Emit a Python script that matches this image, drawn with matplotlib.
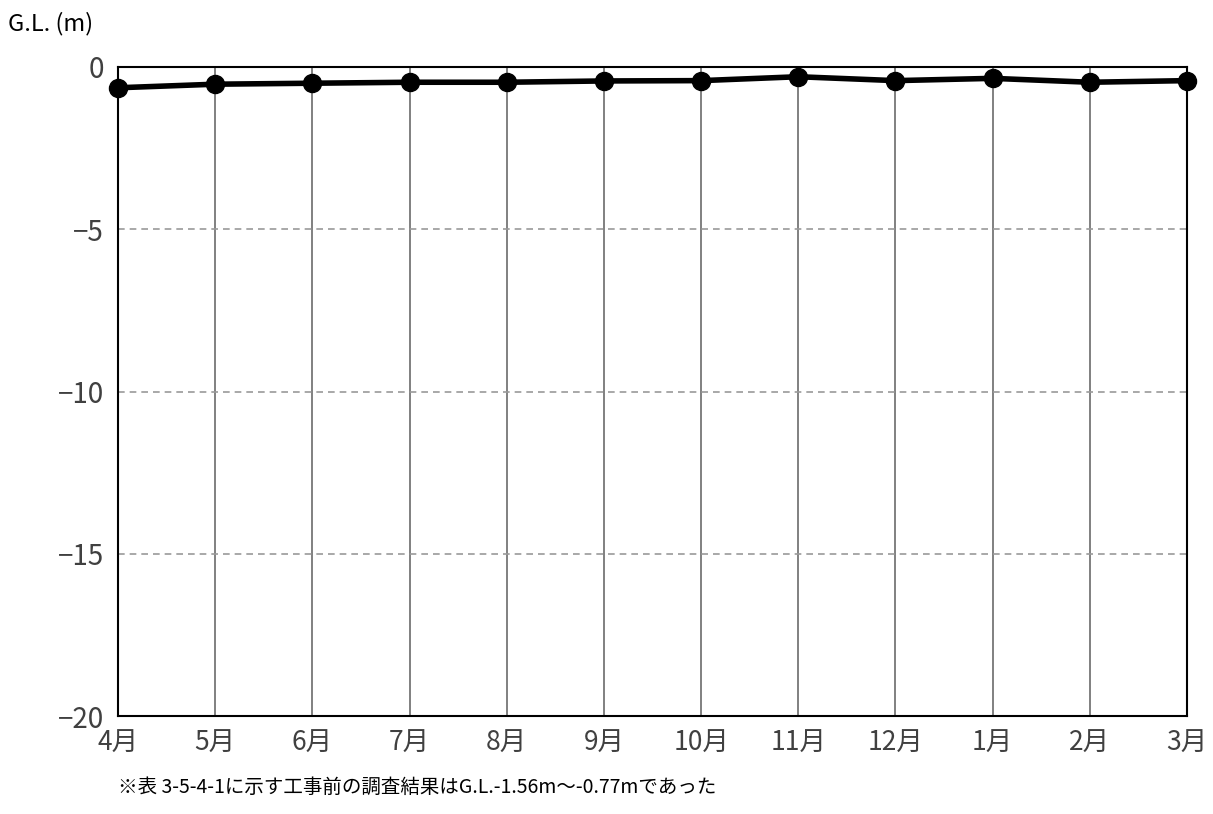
import matplotlib
matplotlib.use('Agg')
import matplotlib.pyplot as plt

plt.rcParams['font.family'] = ['Noto Sans CJK JP', 'DejaVu Sans']

# monthly groundwater level (G.L. m)
months = ['4月', '5月', '6月', '7月', '8月', '9月', '10月', '11月', '12月', '1月', '2月', '3月']
levels = [-0.64, -0.53, -0.50, -0.47, -0.47, -0.43, -0.42, -0.30, -0.42, -0.35, -0.47, -0.42]
yticks = [0, -5, -10, -15, -20]

fig = plt.figure(figsize=(12.13, 8.14), dpi=100)
ax = fig.add_axes([118 / 1213, 1 - 716 / 814, (1187 - 118) / 1213, (716 - 67) / 814])

x = list(range(len(months)))
ax.plot(x, levels, color='black', linewidth=4, marker='o', markersize=13, zorder=5, clip_on=False)

ax.set_xlim(0, len(months) - 1)
ax.set_ylim(-20, 0)
ax.set_xticks(x)
ax.set_xticklabels(months, fontsize=19, color='#404040')
ax.set_yticks(yticks)
ax.set_yticklabels(['0', '−5', '−10', '−15', '−20'], fontsize=20, color='#404040')
ax.tick_params(axis='x', length=0, pad=10)
ax.tick_params(axis='y', length=0, pad=10)

for xi in x[1:-1]:
    ax.axvline(xi, color='#808080', linewidth=1.4, zorder=1)
for yv in [-5, -10, -15]:
    ax.axhline(yv, color='#999999', linewidth=1.2, linestyle=(0, (4, 3)), zorder=1)

for s in ax.spines.values():
    s.set_color('black')
    s.set_linewidth(1.5)

fig.text(8 / 1213, 1 - 24 / 814, 'G.L. (m)', fontsize=17, va='center', ha='left')
fig.text(118 / 1213, 1 - 787 / 814, '※表 3-5-4-1に示す工事前の調査結果はG.L.-1.56m～-0.77mであった',
         fontsize=14, va='center', ha='left')

fig.savefig('out.png', dpi=100)
